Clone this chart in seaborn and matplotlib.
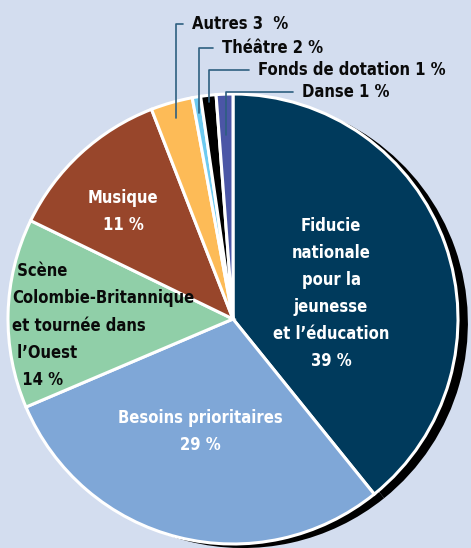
import matplotlib
matplotlib.use("Agg")
import matplotlib.pyplot as plt
from matplotlib import font_manager
import seaborn as sns
import numpy as np

# slice labels, printed percentages and slice sizes
categories = ["Fiducie\nnationale\npour la\njeunesse\net l\u2019\u00e9ducation",
              "Besoins prioritaires",
              " Sc\u00e8ne\nColombie-Britannique\net tourn\u00e9e dans\n l\u2019Ouest",
              "Musique",
              "Autres",
              "Th\u00e9\u00e2tre",
              "Fonds de dotation",
              "Danse"]
pct_labels = ["39 %", "29 %", "  14 %", "11 %", "3  %", "2 %", "1 %", "1 %"]
shares = [39.2, 29.4, 13.6, 11.9, 3.0, 0.6, 1.1, 1.2]
colors = ["#003a5c", "#7fa7d7", "#90cfa8", "#98462b",
          "#fdbb57", "#6dcaf0", "#000000", "#4b56a6"]

sns.set_theme(style="white")
plt.rcParams['font.family'] = ['Roboto', 'DejaVu Sans']

# use a condensed / narrow bold face if the machine has one
narrow = [f for f in font_manager.fontManager.ttflist
          if ("Condensed" in f.fname or "Narrow" in f.fname)
          and f.weight in ("bold", 700) and "Oblique" not in f.fname
          and "Italic" not in f.fname]
if narrow:
    plt.rcParams['font.family'] = [narrow[0].name, 'DejaVu Sans']
    stretch = narrow[0].stretch
else:
    stretch = "normal"

bg = "#d3ddef"

fig = plt.figure(figsize=(4.71, 5.48), dpi=100, facecolor=bg)
ax = fig.add_axes([0, 0, 1, 1])
ax.set_facecolor(bg)

# drop shadow: a black copy of the pie, nudged right and down
ax.pie(shares, colors=["black"] * len(shares), startangle=90, counterclock=False,
       center=(0.044, -0.018), radius=1.0,
       wedgeprops=dict(linewidth=0))
wedges, _ = ax.pie(shares, colors=sns.color_palette(colors), startangle=90,
                   counterclock=False, radius=1.0,
                   wedgeprops=dict(edgecolor="white", linewidth=2.2))

ax.set_xlim(-1.0356, 1.0578)
ax.set_ylim(-1.0178, 1.4178)
ax.set_aspect("equal", adjustable="box")
ax.axis("off")

# size the font so a label line matches the reference width
renderer = fig.canvas.get_renderer()
probe = ax.text(0, 0, "Besoins prioritaires", fontsize=14, fontweight="bold",
                fontstretch=stretch)
fs = 14 * 166 / probe.get_window_extent(renderer).width
probe.remove()

font = dict(fontsize=fs, fontweight="bold", fontstretch=stretch, linespacing=1.65)

# labels inside the big slices
ax.text(0.436, 0.113, categories[0] + "\n" + pct_labels[0], color="white",
        ha="center", va="center", **font)
ax.text(-0.147, -0.50, categories[1] + "\n" + pct_labels[1], color="white",
        ha="center", va="center", **font)
ax.text(-0.982, -0.029, categories[2] + "\n" + pct_labels[2], color="#0a0a0a",
        ha="left", va="center", **font)
ax.text(-0.489, 0.478, categories[3] + "\n" + pct_labels[3], color="white",
        ha="center", va="center", **font)

# small slices: called out above the pie with elbow leader lines
text_pos = [(-0.182, 1.311), (-0.049, 1.204), (0.111, 1.107), (0.307, 1.009)]
line_end = [0.93, 0.93, 0.97, 0.82]
for i, (tx, ty), r in zip(range(4, 8), text_pos, line_end):
    w = wedges[i]
    mid = np.deg2rad((w.theta1 + w.theta2) / 2)
    ax.annotate(f"{categories[i]} {pct_labels[i]}",
                xy=(r * np.cos(mid), r * np.sin(mid)), xytext=(tx, ty),
                ha="left", va="center", color="#0a0a0a",
                fontsize=fs, fontweight="bold", fontstretch=stretch,
                arrowprops=dict(arrowstyle="-", color="#2e5f80", lw=1.2,
                                shrinkA=4, shrinkB=0, relpos=(0, 0.5),
                                connectionstyle="angle,angleA=0,angleB=90,rad=0"))

fig.savefig("out.png", dpi=100, facecolor=bg)
